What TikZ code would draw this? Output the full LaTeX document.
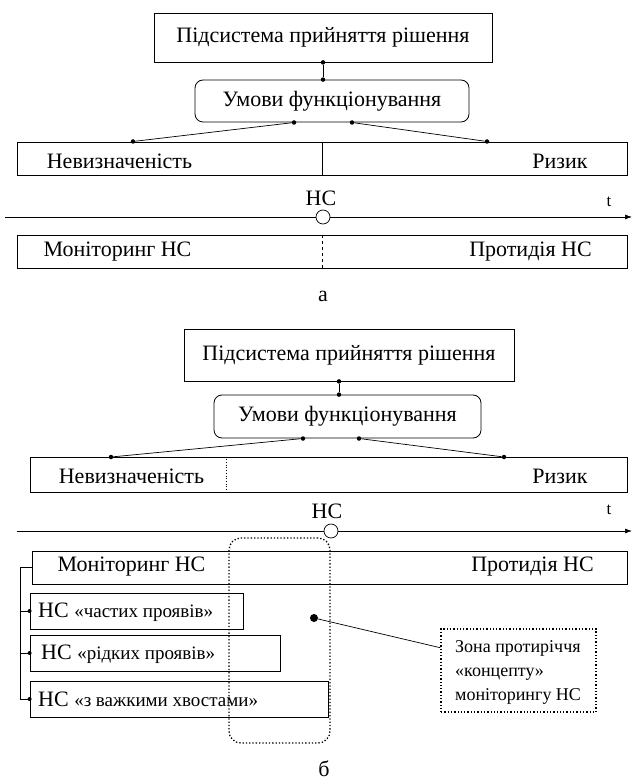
\documentclass[tikz,border=0pt]{standalone}
\usepackage{fontspec}
\setmainfont{Liberation Serif}
\usetikzlibrary{arrows.meta,calc}
\begin{document}
\begin{tikzpicture}[x=1pt,y=-1pt,
  box/.style={draw,line width=0.8pt,inner sep=0pt},
  rbox/.style={box,rounded corners=8pt},
  lbl/.style={inner sep=0pt,font=\fontsize{22}{26}\selectfont},
  sml/.style={inner sep=0pt,font=\fontsize{18}{24}\selectfont},
  tsty/.style={inner sep=0pt,font=\fontsize{17}{20}\selectfont},
  dot/.style={circle,fill,inner sep=0pt,minimum size=4.5pt},
  ln/.style={line width=0.7pt},
  dots/.style={draw,dotted,line width=1.3pt},
  ev/.style={circle,draw,fill=white,line width=0.7pt,minimum size=14pt,inner sep=0pt},
  axis/.style={ln,-{Latex[length=7pt,width=5pt]}}
]
\newcommand{\qsz}{\fontsize{19}{22}\selectfont}
\useasboundingbox (0,0) rectangle (632,783);

% ---------------- part a ----------------
\node[box,lbl,minimum width=338pt,minimum height=49pt] (topA) at (323,37.5) {Підсистема прийняття рішення};
\node[rbox,lbl,minimum width=274pt,minimum height=42pt] (condA) at (332,101) {Умови функціонування};
\node[dot] (dA1) at (topA.south) {};
\node[dot] (dA2) at (topA.south |- condA.north) {};
\draw[ln] (dA1) -- (dA2);

\node[box,minimum width=610pt,minimum height=33pt] (wideA) at (322,158.5) {};
\node[dot] (dA3) at (294,122.5) {};
\node[dot] (dA4) at (352,122.5) {};
\node[dot] (dA5) at (133,141.5) {};
\node[dot] (dA6) at (487,141.5) {};
\draw[ln] (dA3) -- (dA5);
\draw[ln] (dA4) -- (dA6);
\draw[ln] (wideA.north) -- (wideA.south);
\node[lbl] (uncA) at (119.5,161) {Невизначеність};
\node[lbl] (riskA) at (560,161) {Ризик};

\coordinate (axA0) at (5,217);
\coordinate (axA1) at (632,217);
\draw[axis] (axA0) -- (axA1);
\node[ev] (evA) at (323,217) {};
\node[lbl] (hsA) at (321,198) {НС};
\node[tsty] (tA) at (609,202) {t};

\node[box,minimum width=610pt,minimum height=33pt] (monA) at (322,251.5) {};
\draw[ln,dashed] (monA.north) -- (monA.south);
\node[lbl] (monTA) at (117.5,252) {Моніторинг НС};
\node[lbl] (protA) at (530.5,252) {Протидія НС};
\node[lbl] (capA) at (323,296) {а};

% ---------------- part b ----------------
\node[box,lbl,minimum width=330pt,minimum height=52pt] (topB) at (349,355) {Підсистема прийняття рішення};
\node[rbox,lbl,minimum width=267pt,minimum height=43pt] (condB) at (347.5,416.5) {Умови функціонування};
\coordinate (jB) at (339,0);
\node[dot] (dB1) at (topB.south -| jB) {};
\node[dot] (dB2) at (condB.north -| jB) {};
\draw[ln] (dB1) -- (dB2);

\node[box,minimum width=597pt,minimum height=35pt] (wideB) at (328.5,474.5) {};
\node[dot] (dB3) at (303,438.5) {};
\node[dot] (dB4) at (359,438.5) {};
\node[dot] (dB5) at (111,457) {};
\node[dot] (dB6) at (504,457) {};
\draw[ln] (dB3) -- (dB5);
\draw[ln] (dB4) -- (dB6);
\coordinate (divB) at (226,0);
\draw[ln,dotted] (wideB.north -| divB) -- (wideB.south -| divB);
\node[lbl] (uncB) at (131.5,476) {Невизначеність};
\node[lbl] (riskB) at (560,476) {Ризик};

\coordinate (axB0) at (17,531);
\coordinate (axB1) at (632,531);
\draw[axis] (axB0) -- (axB1);
\node[ev] (evB) at (331,531) {};
\node[lbl] (hsB) at (327,511) {НС};
\node[tsty] (tB) at (609,510) {t};

\node[box,minimum width=595pt,minimum height=33pt] (monB) at (329.5,567.5) {};
\node[lbl] (monTB) at (131.5,567) {Моніторинг НС};
\node[lbl] (protB) at (532.5,567) {Протидія НС};

\node[box,minimum width=213pt,minimum height=36pt] (b1) at (136.5,611) {};
\node[box,minimum width=250pt,minimum height=36pt] (b2) at (155,653) {};
\node[box,minimum width=298pt,minimum height=36pt] (b3) at (179,699) {};
\node[lbl,anchor=west] (t1) at (38,612) {НС {\qsz«частих проявів»}};
\node[lbl,anchor=west] (t2) at (41,654) {НС {\qsz«рідких проявів»}};
\node[lbl,anchor=west] (t3) at (38,699) {НС {\qsz«з важкими хвостами»}};

\coordinate (brk) at (20,0);
\draw[ln] (monB.west) -| (brk |- b3.west) -- (b3.west);
\draw[ln] (brk |- b1.west) -- (b1.west);
\draw[ln] (brk |- b2.west) -- (b2.west);
\node[dot,minimum size=4pt] (e1) at (b1.west) {};
\node[dot,minimum size=4pt] (e2) at (b2.west) {};
\node[dot,minimum size=4pt] (e3) at (b3.west) {};

\node[dots,rounded corners=12pt,minimum width=101pt,minimum height=205pt] (zone) at (279.5,640.5) {};
\node[dots,minimum width=155pt,minimum height=83pt] (zbox) at (518.5,670.5) {};
\node[sml,anchor=west,align=left] (ztxt) at (455,672) {Зона протиріччя\\«концепту»\\моніторингу НС};
\node[dot,minimum size=8pt] (zd) at (314,618) {};
\draw[ln] (zd) -- ($(zbox.north west)!0.23!(zbox.south west)$);

\node[lbl] (capB) at (324,769) {б};
\end{tikzpicture}
\end{document}
